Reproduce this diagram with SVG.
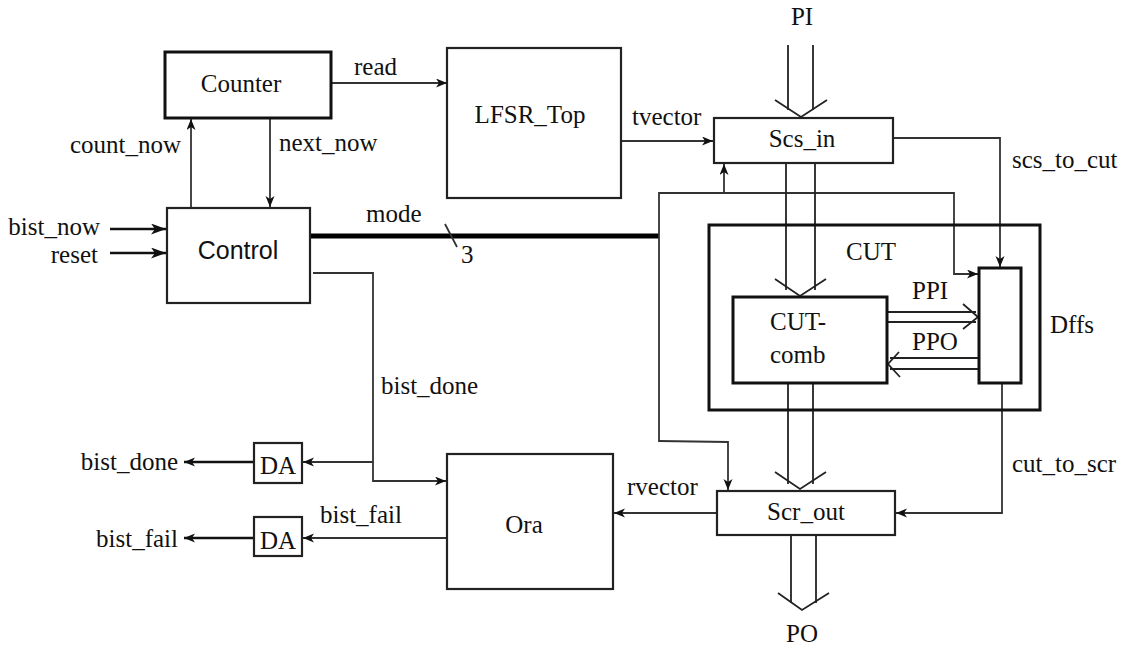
<svg xmlns="http://www.w3.org/2000/svg" width="1128" height="645" viewBox="0 0 1128 645">
<style>
.t{font-family:"Liberation Serif","Times New Roman",serif;font-size:25px;fill:#111}
.s{font-family:"Liberation Sans",Arial,sans-serif;font-size:25px;fill:#111}
.box{fill:#fff;stroke:#222;stroke-width:2.2}
.thk{fill:#fff;stroke:#111;stroke-width:3}
.w{fill:none;stroke:#333;stroke-width:1.8}
.wb{fill:none;stroke:#111;stroke-width:2.4}
.bus{fill:none;stroke:#000;stroke-width:5}
.ch{fill:none;stroke:#222;stroke-width:1.8}
</style>
<defs>
<marker id="a" markerUnits="userSpaceOnUse" markerWidth="12" markerHeight="10" refX="11" refY="4.5" orient="auto">
<path d="M0,0 L11,4.5 L0,9 L3,4.5 z" fill="#111"/>
</marker>
<marker id="ab" markerUnits="userSpaceOnUse" markerWidth="16" markerHeight="12" refX="15" refY="5.5" orient="auto">
<path d="M0,0 L15,5.5 L0,11 L4,5.5 z" fill="#111"/>
</marker>
</defs>
<rect width="1128" height="645" fill="#fff"/>

<g id="connectors">
<!-- inputs to Control -->
<line class="wb" x1="110" y1="229" x2="166" y2="229" marker-end="url(#ab)"/>
<line class="wb" x1="110" y1="253" x2="166" y2="253" marker-end="url(#ab)"/>
<!-- count_now / next_now -->
<line class="w" x1="191" y1="208" x2="191" y2="119" marker-end="url(#a)"/>
<line class="w" x1="270" y1="118" x2="270" y2="207" marker-end="url(#a)"/>
<!-- read -->
<line class="w" x1="331" y1="83" x2="447" y2="83" marker-end="url(#a)"/>
<!-- tvector -->
<line class="w" x1="621" y1="141" x2="713" y2="141" marker-end="url(#a)"/>
<!-- mode bus -->
<line class="bus" x1="310" y1="236" x2="659" y2="236"/>
<line class="w" x1="445" y1="224" x2="457" y2="247"/>
<!-- mode distribution -->
<polyline class="w" points="659,442 659,193 954,193 954,274 978,274" marker-end="url(#a)"/>
<line class="w" x1="724" y1="193" x2="724" y2="164" marker-end="url(#a)"/>
<polyline class="w" points="659,441 728,442 728,490" marker-end="url(#a)"/>
<!-- scs_to_cut -->
<polyline class="w" points="893,138 1000,138 1000,267" marker-end="url(#a)"/>
<!-- cut_to_scr -->
<polyline class="w" points="1002,383 1002,513 896,513" marker-end="url(#a)"/>
<!-- rvector -->
<line class="w" x1="717" y1="513" x2="614" y2="513" marker-end="url(#a)"/>
<!-- bist_done -->
<polyline class="w" points="313,273 373,273 373,481 446,481" marker-end="url(#a)"/>
<line class="w" x1="373" y1="462" x2="303" y2="462" marker-end="url(#a)"/>
<line class="wb" x1="254" y1="462" x2="184" y2="462" marker-end="url(#a)"/>
<!-- bist_fail -->
<line class="w" x1="447" y1="538" x2="303" y2="538" marker-end="url(#a)"/>
<line class="wb" x1="254" y1="538" x2="184" y2="538" marker-end="url(#a)"/>
<!-- PI bus -->
<line class="ch" x1="788" y1="45" x2="788" y2="110"/>
<line class="ch" x1="813" y1="45" x2="813" y2="110"/>
<polyline class="ch" points="775,100 801,117 827,100"/>
<!-- Scs_in to CUT-comb bus -->
<line class="ch" x1="786" y1="163" x2="786" y2="290"/>
<line class="ch" x1="815" y1="163" x2="815" y2="290"/>
<polyline class="ch" points="775,279 800,296 826,279"/>
<!-- PPI -->
<line class="ch" x1="887" y1="312" x2="976" y2="312"/>
<line class="ch" x1="887" y1="322" x2="976" y2="322"/>
<polyline class="ch" points="963,304 978,317 963,329"/>
<!-- PPO -->
<line class="ch" x1="979" y1="358" x2="890" y2="358"/>
<line class="ch" x1="979" y1="369" x2="890" y2="369"/>
<polyline class="ch" points="899,352 888,364 900,377"/>
<!-- CUT-comb to Scr_out bus -->
<line class="ch" x1="788" y1="383" x2="788" y2="484"/>
<line class="ch" x1="813" y1="383" x2="813" y2="484"/>
<polyline class="ch" points="775,472 800,489 826,472"/>
<!-- PO bus -->
<line class="ch" x1="791" y1="535" x2="791" y2="603"/>
<line class="ch" x1="816" y1="535" x2="816" y2="603"/>
<polyline class="ch" points="778,593 802,610 829,593"/>
</g>

<g id="counter"><rect class="thk" x="165" y="52" width="166" height="66"/><text class="t" x="241" y="92" text-anchor="middle">Counter</text></g>
<g id="control"><rect class="box" x="167" y="208" width="143" height="95"/><text class="s" x="238" y="259" text-anchor="middle">Control</text></g>
<g id="lfsr"><rect class="box" x="447" y="48" width="174" height="150"/><text class="t" x="530" y="123" text-anchor="middle">LFSR_Top</text></g>
<g id="scs_in"><rect class="box" x="714" y="118" width="179" height="45"/><text class="t" x="802" y="147" text-anchor="middle">Scs_in</text></g>
<g id="cut"><rect class="thk" x="709" y="225" width="331" height="185" fill="none" style="fill:none"/><text class="t" x="871" y="260" text-anchor="middle">CUT</text></g>
<g id="cut_comb"><rect class="thk" x="733" y="297" width="154" height="86"/><text class="t" x="770" y="330">CUT-</text><text class="t" x="770" y="363">comb</text></g>
<g id="dffs"><rect class="thk" x="979" y="268" width="42" height="115"/><text class="t" x="1050" y="333">Dffs</text></g>
<g id="scr_out"><rect class="box" x="717" y="491" width="178" height="44"/><text class="t" x="806" y="520" text-anchor="middle">Scr_out</text></g>
<g id="ora"><rect class="box" x="447" y="454" width="166" height="135"/><text class="t" x="524" y="533" text-anchor="middle">Ora</text></g>
<g id="da1"><rect class="box" x="254" y="443" width="48" height="40"/><text class="t" x="278" y="474" text-anchor="middle">DA</text></g>
<g id="da2"><rect class="box" x="254" y="517" width="48" height="39"/><text class="t" x="278" y="549" text-anchor="middle">DA</text></g>

<g id="labels">
<text class="t" x="354" y="75">read</text>
<text class="t" x="70" y="153">count_now</text>
<text class="t" x="279" y="151">next_now</text>
<text class="t" x="366" y="222">mode</text>
<text class="t" x="461" y="263">3</text>
<text class="t" x="100" y="235" text-anchor="end">bist_now</text>
<text class="t" x="98" y="263" text-anchor="end">reset</text>
<text class="t" x="632" y="125">tvector</text>
<text class="t" x="802" y="25" text-anchor="middle">PI</text>
<text class="t" x="912" y="299">PPI</text>
<text class="t" x="912" y="350">PPO</text>
<text class="t" x="1012" y="168">scs_to_cut</text>
<text class="t" x="1012" y="472">cut_to_scr</text>
<text class="t" x="627" y="495">rvector</text>
<text class="t" x="802" y="642" text-anchor="middle">PO</text>
<text class="t" x="381" y="394">bist_done</text>
<text class="t" x="178" y="470" text-anchor="end">bist_done</text>
<text class="t" x="320" y="523">bist_fail</text>
<text class="t" x="178" y="547" text-anchor="end">bist_fail</text>
</g>
</svg>
